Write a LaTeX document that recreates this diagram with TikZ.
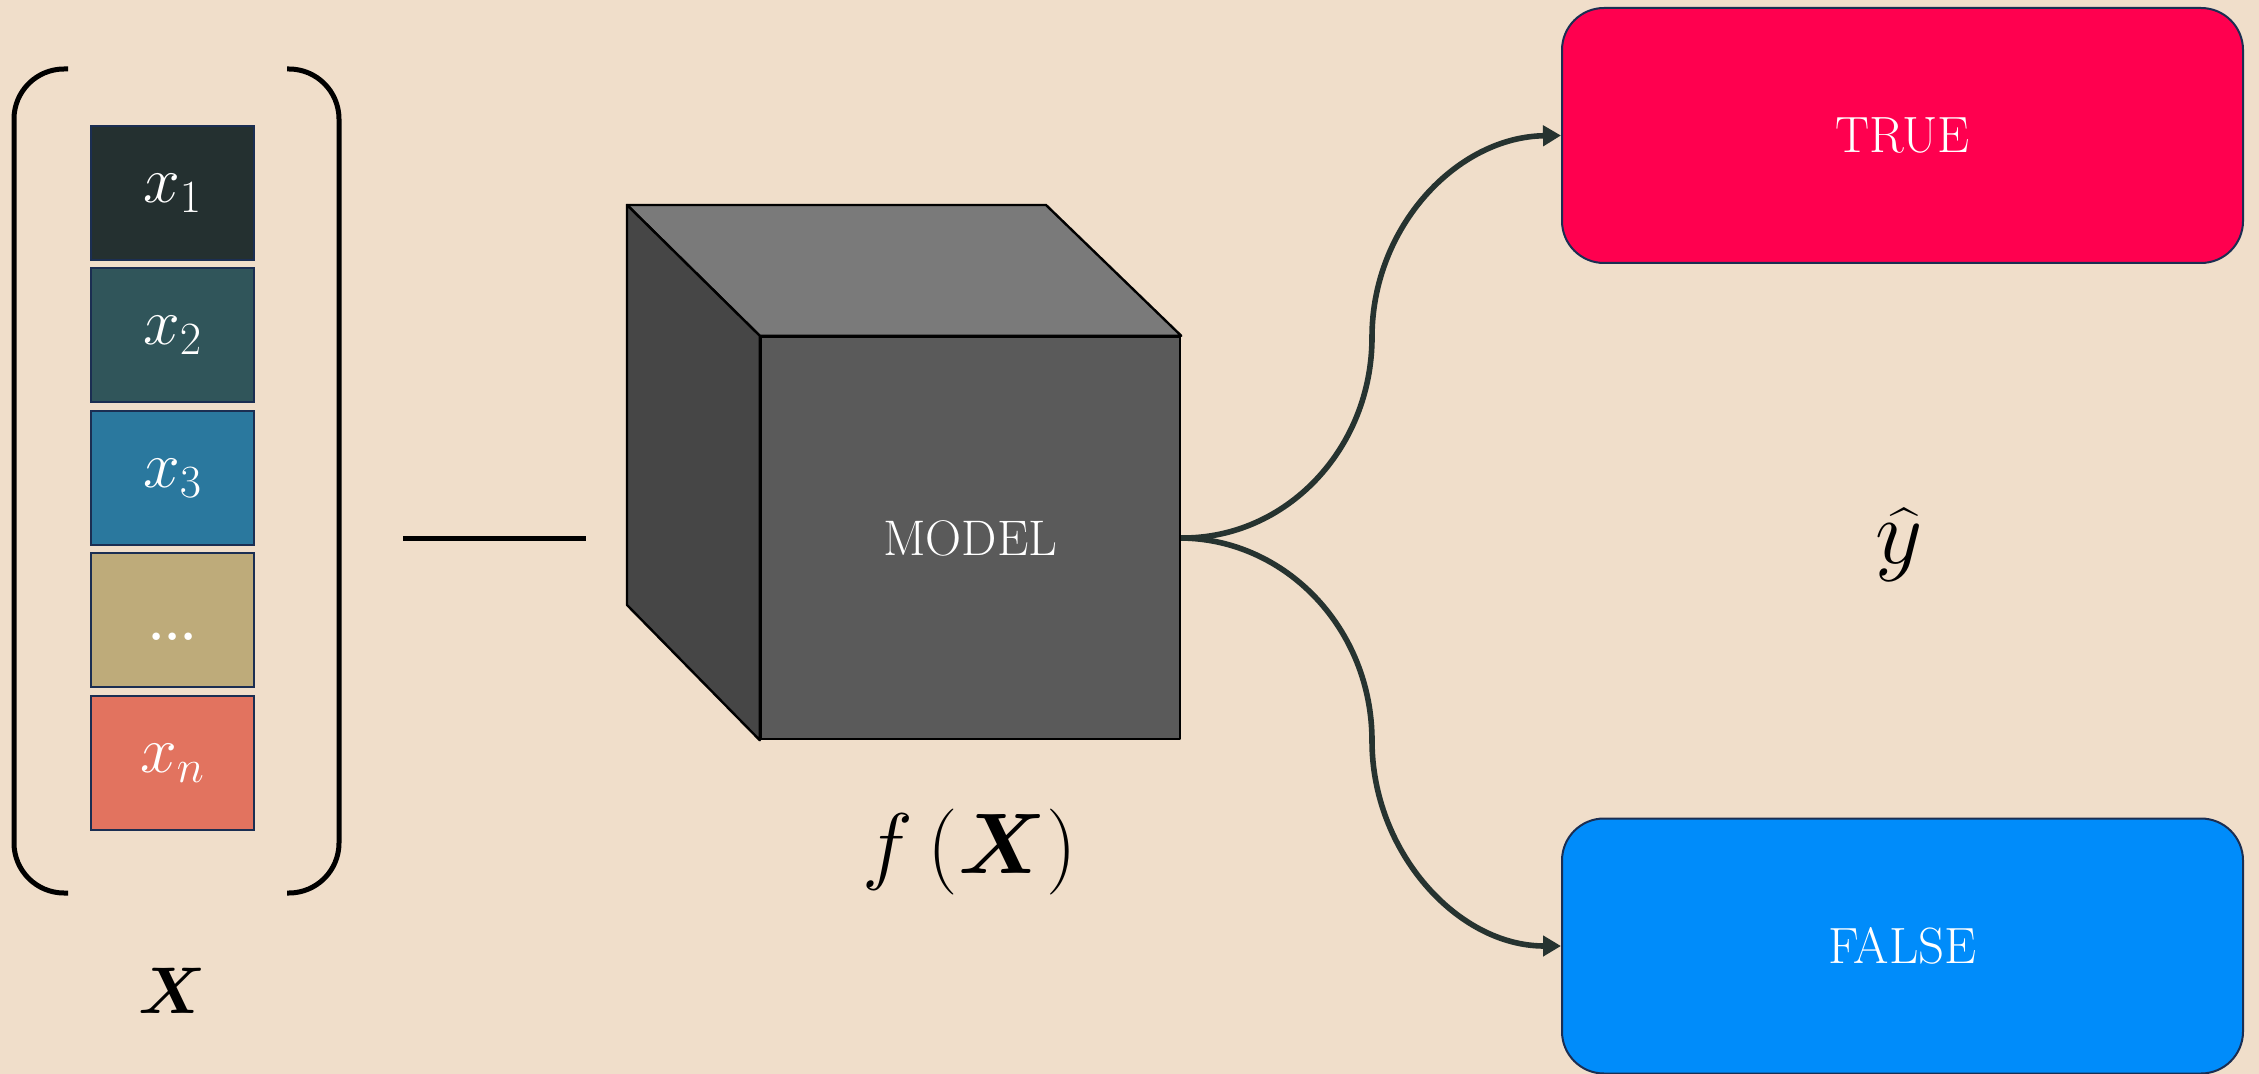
\documentclass[tikz,border=0pt]{standalone}
\usepackage{fix-cm}
\usepackage{amsmath}
\usepackage{bm}
\usetikzlibrary{arrows.meta}
\definecolor{bgc}{HTML}{F0DECA}
\definecolor{fone}{HTML}{243030}
\definecolor{ftwo}{HTML}{30555A}
\definecolor{fthree}{HTML}{2A789E}
\definecolor{fdots}{HTML}{BEAB7A}
\definecolor{fn}{HTML}{E2735F}
\definecolor{fedge}{HTML}{1B2E52}
\definecolor{cfront}{HTML}{5A5A5A}
\definecolor{ctop}{HTML}{7A7A7A}
\definecolor{cleft}{HTML}{464646}
\definecolor{ctrue}{HTML}{FF004F}
\definecolor{cfalse}{HTML}{008CFA}
\definecolor{connc}{HTML}{263330}
\tikzset{
  featbox/.style={draw=fedge, line width=1pt, minimum width=81.5pt, minimum height=67pt,
    inner sep=0pt, text=white, font=\fontsize{33}{35}\selectfont},
  outbox/.style={draw=fedge, line width=1pt, rounded corners=21pt, minimum width=340.5pt,
    minimum height=127.5pt, inner sep=0pt, text=white, font=\fontsize{25.5}{28}\selectfont},
  cubeface/.style={draw=black, line width=1.2pt, line join=round},
  bracket/.style={draw=black, line width=2.5pt, rounded corners=25pt},
  conn/.style={draw=connc, line width=2.8pt, -{Triangle[length=9pt,width=10pt]}},
}
\begin{document}
\begin{tikzpicture}[x=0.5pt,y=-0.5pt]
\useasboundingbox (0,0) rectangle (2259,1074);
\fill[bgc] (0,0) rectangle (2259,1074);

% brackets
\draw[bracket] (68,69) -- (14,69) -- (14,893) -- (68,893);
\draw[bracket] (287,69) -- (339,69) -- (339,893) -- (287,893);

% feature boxes
\node[featbox, fill=fone] (x1) at (172.5,193) {$x_1$};
\node[featbox, fill=ftwo] (x2) at (172.5,335) {$x_2$};
\node[featbox, fill=fthree] (x3) at (172.5,478) {$x_3$};
\node[featbox, fill=fdots, font=\fontsize{26}{28}\selectfont\bfseries, text height=20pt, text depth=0pt] (xd) at (172.5,620) {...};
\node[featbox, fill=fn] (xn) at (172.5,763) {$x_n$};

\node[font=\fontsize{33}{35}\selectfont] (xlab) at (172,991) {$\bm{X}$};

% line
\coordinate (ls) at (403,539);
\coordinate (le) at (586,539);
\draw[line width=2.5pt] (ls) -- (le);

% cube
\coordinate (btl) at (627,205);
\coordinate (btr) at (1046,205);
\coordinate (bbl) at (627,605);
\node[cubeface, fill=cfront, minimum width=209.5pt, minimum height=201pt, inner sep=0pt,
  text=white, font=\fontsize{25}{28}\selectfont] (model) at (970.5,538) {MODEL};
\draw[cubeface, fill=ctop] (btl) -- (btr) -- (model.north east) -- (model.north west) -- cycle;
\draw[cubeface, fill=cleft] (btl) -- (model.north west) -- (model.south west) -- (bbl) -- cycle;

\node[font=\fontsize{43}{46}\selectfont] (fx) at (970,852) {$f\,(\bm{X})$};

% outputs
\node[outbox, fill=ctrue] (true) at (1902.5,135.5) {TRUE};
\node[outbox, fill=cfalse] (false) at (1902.5,946) {FALSE};

\node[font=\fontsize{46}{50}\selectfont] (yhat) at (1899,545) {$\widehat{y}$};

% connectors
\draw[conn] (model.east) .. controls (1286,539) and (1372,449) .. (1372,337)
  .. controls (1372,227) and (1457,137) .. (true.west);
\draw[conn] (model.east) .. controls (1286,539) and (1372,629) .. (1372,741)
  .. controls (1372,851) and (1457,946) .. (false.west);
\end{tikzpicture}
\end{document}
